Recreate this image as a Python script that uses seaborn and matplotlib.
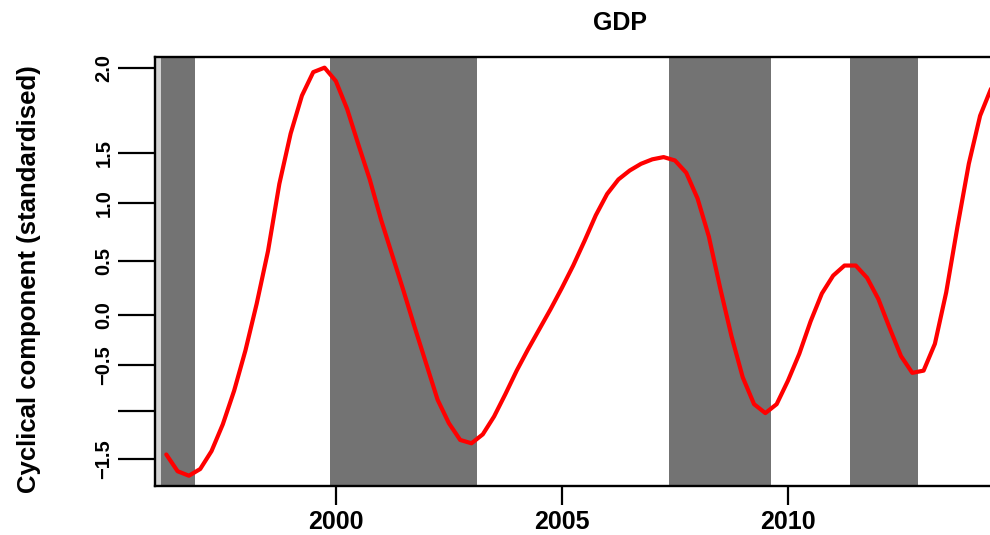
import numpy as np
import pandas as pd
import matplotlib
matplotlib.use("Agg")
import matplotlib.pyplot as plt
import seaborn as sns

# quarterly cyclical component of GDP, starting 1996 Q2
start_quarter = "1996Q2"
gdp_cycle = [-1.46, -1.61, -1.65, -1.59, -1.43, -1.19, -0.89, -0.53, -0.11, 0.36,
             0.96, 1.41, 1.75, 1.96, 2.00, 1.88, 1.63, 1.31, 1.00, 0.64,
             0.32, 0.00, -0.33, -0.65, -0.97, -1.18, -1.33, -1.36, -1.28, -1.12,
             -0.92, -0.71, -0.52, -0.34, -0.16, 0.03, 0.23, 0.45, 0.68, 0.87,
             1.00, 1.08, 1.14, 1.18, 1.20, 1.17, 1.06, 0.83, 0.49, 0.03,
             -0.40, -0.77, -1.01, -1.09, -1.01, -0.80, -0.56, -0.27, -0.02, 0.14,
             0.23, 0.23, 0.12, -0.07, -0.33, -0.58, -0.73, -0.71, -0.47, -0.01,
             0.58, 1.14, 1.57, 1.82]

# shaded phases (decimal years)
band_start = [1996.125, 1999.875, 2007.375, 2011.375]
band_end = [1996.875, 2003.125, 2009.625, 2012.875]
light_start = [1995.9]
light_end = [1996.125]

# y axis ticks as they appear in the picture
ytick_pos = [2.0, 1.237, 0.790, 0.274, -0.209, -0.659, -1.071, -1.5]
ytick_labels = ["2.0", "1.5", "1.0", "0.5", "0.0", "\u22120.5", "", "\u22121.5"]
xtick_pos = [2000, 2005, 2010]
xtick_labels = ["2000", "2005", "2010"]

quarters = pd.period_range(start_quarter, periods=len(gdp_cycle), freq="Q")
df = pd.DataFrame({
    "time": quarters.year + (quarters.quarter - 1) / 4.0,
    "cycle": gdp_cycle,
})

sns.set_style("white")
plt.rcParams["font.family"] = ["Liberation Sans", "DejaVu Sans"]
plt.rcParams["font.weight"] = "bold"
plt.rcParams["text.color"] = "black"
plt.rcParams["xtick.color"] = "black"
plt.rcParams["ytick.color"] = "black"
plt.rcParams["axes.labelcolor"] = "black"

fig = plt.figure(figsize=(9.9, 5.35), dpi=100)
ax = fig.add_axes([155 / 990, 1 - 486 / 535, (1085 - 155) / 990, (486 - 56.7) / 535])

for s, e in zip(light_start, light_end):
    ax.axvspan(s, e, color="#D3D3D3", lw=0, zorder=0)
for s, e in zip(band_start, band_end):
    ax.axvspan(s, e, color="#737373", lw=0, zorder=1)

sns.lineplot(data=df, x="time", y="cycle", color="red", lw=3, ax=ax, zorder=3)
ax.lines[-1].set_solid_capstyle("round")
ax.lines[-1].set_solid_joinstyle("round")

ax.set_xlim(1996.0, 2016.57)
ax.set_ylim(-1.742, 2.098)

ax.set_xticks(xtick_pos)
ax.set_xticklabels(xtick_labels, fontsize=18, fontweight="bold", color="black")
ax.set_yticks(ytick_pos)
ax.set_yticklabels(ytick_labels, fontsize=14.5, fontweight="bold",
                   rotation=90, va="center", color="black")
ax.tick_params(axis="x", direction="out", length=13.5, width=1.6, pad=4,
               color="black", bottom=True)
ax.tick_params(axis="y", direction="out", length=27, width=1.6, pad=3,
               color="black", left=True)

for sp in ax.spines.values():
    sp.set_visible(True)
    sp.set_color("black")
    sp.set_linewidth(1.7)
    sp.set_zorder(4)

ax.set_xlabel("")
ax.set_ylabel("")
ax.text(0.5, 1 + (56.7 - 23.5) / 429.3, "GDP", transform=ax.transAxes,
        ha="center", va="center", fontsize=18, fontweight="bold", color="black")
fig.text(29 / 990, 1 - 279 / 535, "Cyclical component (standardised)",
         rotation=90, ha="center", va="center", fontsize=18.5,
         fontweight="bold", color="black")

fig.savefig("out.png", dpi=100)
